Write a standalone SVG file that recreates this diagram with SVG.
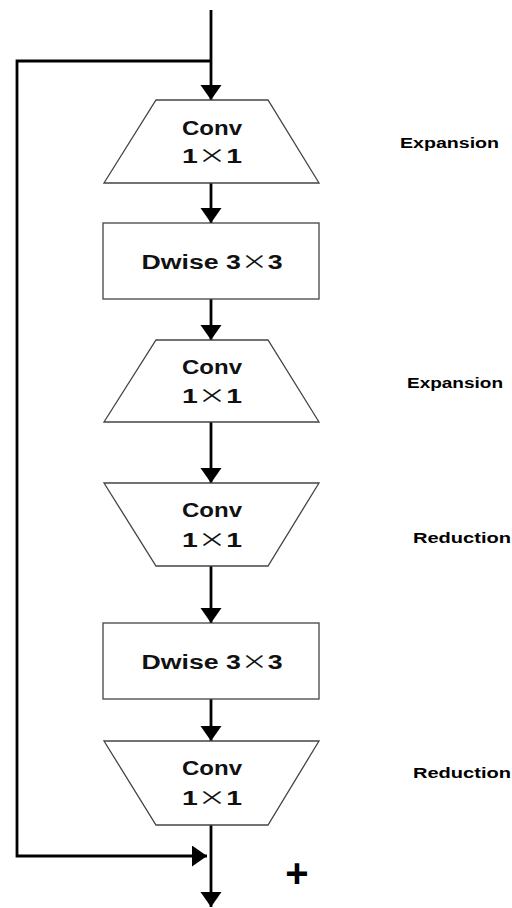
<svg xmlns="http://www.w3.org/2000/svg" width="512" height="908" viewBox="0 0 512 908">
<style>
.shape{fill:#fff;stroke:#444;stroke-width:1.3}
.lbl{font-family:"Liberation Sans",Arial,sans-serif;font-weight:bold;font-size:20px;fill:#111;text-anchor:middle}
.x{font-family:"Noto Sans CJK SC","Noto Sans CJK JP",sans-serif;font-weight:normal}
.side{font-family:"Liberation Sans",Arial,sans-serif;font-weight:bold;font-size:14px;fill:#000}
.conn{fill:none;stroke:#000;stroke-width:2.8}
</style>
<defs>
<marker id="ah" markerUnits="userSpaceOnUse" markerWidth="16" markerHeight="22" refX="15" refY="10.5" orient="auto">
<path d="M0,0 L15,10.5 L0,21 z" fill="#000"/>
</marker>
</defs>
<rect width="512" height="908" fill="#fff"/>
<g id="connectors">
<line class="conn" x1="211" y1="10" x2="211" y2="100" marker-end="url(#ah)"/>
<polyline class="conn" points="211,61 17,61 17,856 207,856" marker-end="url(#ah)"/>
<line class="conn" x1="211" y1="183" x2="211" y2="223" marker-end="url(#ah)"/>
<line class="conn" x1="211" y1="299" x2="211" y2="340" marker-end="url(#ah)"/>
<line class="conn" x1="211" y1="422" x2="211" y2="483" marker-end="url(#ah)"/>
<line class="conn" x1="211" y1="566" x2="211" y2="623" marker-end="url(#ah)"/>
<line class="conn" x1="211" y1="699" x2="211" y2="741" marker-end="url(#ah)"/>
<line class="conn" x1="211" y1="825" x2="211" y2="907" marker-end="url(#ah)"/>
</g>
<g id="conv1">
<polygon class="shape" points="156,100 268,100 319,183 104,183"/>
<text class="lbl" x="212" y="135" textLength="60" lengthAdjust="spacingAndGlyphs">Conv</text>
<text class="lbl" x="212" y="163" textLength="60" lengthAdjust="spacingAndGlyphs">1<tspan class="x">×</tspan>1</text>
</g>
<g id="dwise1">
<rect class="shape" x="103" y="223" width="216" height="76"/>
<text class="lbl" x="212" y="269" font-size="22" textLength="141" lengthAdjust="spacingAndGlyphs">Dwise 3<tspan class="x">×</tspan>3</text>
</g>
<g id="conv2">
<polygon class="shape" points="156,340 268,340 319,422 104,422"/>
<text class="lbl" x="212" y="374" textLength="60" lengthAdjust="spacingAndGlyphs">Conv</text>
<text class="lbl" x="212" y="403" textLength="60" lengthAdjust="spacingAndGlyphs">1<tspan class="x">×</tspan>1</text>
</g>
<g id="conv3">
<polygon class="shape" points="104,483 319,483 268,566 156,566"/>
<text class="lbl" x="212" y="517" textLength="60" lengthAdjust="spacingAndGlyphs">Conv</text>
<text class="lbl" x="212" y="547" textLength="60" lengthAdjust="spacingAndGlyphs">1<tspan class="x">×</tspan>1</text>
</g>
<g id="dwise2">
<rect class="shape" x="103" y="623" width="216" height="76"/>
<text class="lbl" x="212" y="669" font-size="22" textLength="141" lengthAdjust="spacingAndGlyphs">Dwise 3<tspan class="x">×</tspan>3</text>
</g>
<g id="conv4">
<polygon class="shape" points="104,741 319,741 268,825 156,825"/>
<text class="lbl" x="212" y="775" textLength="60" lengthAdjust="spacingAndGlyphs">Conv</text>
<text class="lbl" x="212" y="805" textLength="60" lengthAdjust="spacingAndGlyphs">1<tspan class="x">×</tspan>1</text>
</g>
<g id="labels">
<text class="side" x="400" y="148" textLength="99" lengthAdjust="spacingAndGlyphs">Expansion</text>
<text class="side" x="407" y="388" textLength="96" lengthAdjust="spacingAndGlyphs">Expansion</text>
<text class="side" x="413" y="543" textLength="98" lengthAdjust="spacingAndGlyphs">Reduction</text>
<text class="side" x="413" y="778" textLength="98" lengthAdjust="spacingAndGlyphs">Reduction</text>
<text x="297" y="887" font-family="Liberation Sans,Arial,sans-serif" font-weight="bold" font-size="40" text-anchor="middle" fill="#000">+</text>
</g>
</svg>
